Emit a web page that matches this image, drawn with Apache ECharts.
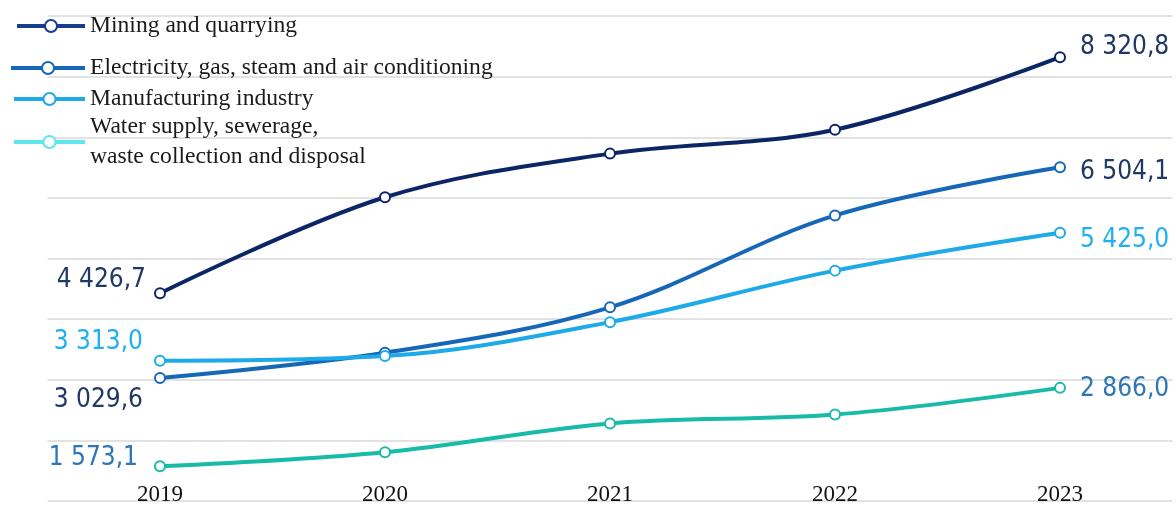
<!DOCTYPE html>
<html>
<head>
<meta charset="utf-8">
<script src="https://cdn.jsdelivr.net/npm/echarts@6/dist/echarts.min.js"></script>
<style>
html,body{margin:0;padding:0;background:#fff;}
#c{width:1176px;height:506px;}
</style>
</head>
<body>
<div id="c"></div>
<script>
const years = ['2019', '2020', '2021', '2022', '2023'];
const mining = [4426.7, 6010, 6730, 7125, 8320.8];
const electricity = [3029.6, 3445, 4195, 5710, 6504.1];
const manufacturing = [3313.0, 3390, 3950, 4800, 5425.0];
const water = [1573.1, 1805, 2280, 2426, 2866.0];
const seriesNames = [
  'Mining and quarrying',
  'Electricity, gas, steam and air conditioning',
  'Manufacturing industry',
  'Water supply, sewerage,\nwaste collection and disposal'
];

const C_NAVY = '#0c2565', C_ELEC = '#1767b8', C_MANU = '#1eaae9', C_WATER = '#17bba8';
const L_NAVY = '#1f3864', L_LIGHT = '#1fb0ef', L_MED = '#2e75b6';
const labelFont = '"DejaVu Sans Condensed", "Liberation Sans Narrow", "Liberation Sans", sans-serif';

function fmt(v) {
  const s = v.toFixed(1).split('.');
  return s[0].replace(/\B(?=(\d{3})+(?!\d))/g, ' ') + ',' + s[1];
}

function buildData(vals, first, last) {
  return vals.map((v, i) => {
    const item = { value: v };
    const cfg = i === 0 ? first : (i === vals.length - 1 ? last : null);
    if (cfg) {
      item.label = {
        show: true,
        position: cfg.pos,
        distance: cfg.dist,
        offset: cfg.off,
        color: cfg.color,
        fontFamily: labelFont,
        fontSize: 26,
        formatter: p => fmt(p.value)
      };
    }
    return item;
  });
}

function mkSeries(name, vals, color, first, last) {
  return {
    name: name,
    type: 'line',
    smooth: 0.35,
    data: buildData(vals, first, last),
    symbol: 'emptyCircle',
    symbolSize: 10,
    lineStyle: { color: color, width: 4 },
    itemStyle: { color: color, borderWidth: 2, borderColor: color },
    label: { show: false },
    z: 3
  };
}

const legendText = { color: '#1a1a1a', fontFamily: '"Liberation Serif", "Times New Roman", serif', fontSize: 23.6 };
function mkLegend(name, color, left, top, width) {
  return {
    data: [{
      name: name,
      itemStyle: { color: color, borderColor: color, borderWidth: 3 },
      lineStyle: { color: color, width: 4 }
    }],
    left: left, top: top, orient: 'vertical',
    itemWidth: width, itemHeight: 15, padding: 0,
    textStyle: Object.assign({}, legendText, { lineHeight: 30 }),
    selectedMode: false
  };
}

const chart = echarts.init(document.getElementById('c'), null, { renderer: 'canvas' });
chart.setOption({
  animation: false,
  backgroundColor: '#fff',
  grid: { left: 47.5, right: 3.5, top: 16, bottom: 5, containLabel: false },
  legend: [
    mkLegend(seriesNames[0], '#163d8e', 15, 11, 68),
    mkLegend(seriesNames[1], C_ELEC, 9, 53, 74),
    mkLegend(seriesNames[2], C_MANU, 12, 84, 71),
    mkLegend(seriesNames[3], '#5fe6ef', 12, 112, 71)
  ],
  xAxis: {
    type: 'category',
    data: years,
    boundaryGap: true,
    axisLine: { show: false },
    axisTick: { show: false },
    axisLabel: { margin: -18, color: '#111', fontFamily: '"Liberation Serif", "Times New Roman", serif', fontSize: 23 }
  },
  yAxis: {
    type: 'value',
    min: 1000, max: 9000, interval: 1000,
    axisLabel: { show: false },
    axisLine: { show: false },
    axisTick: { show: false },
    splitLine: { lineStyle: { color: '#d9d9d9', width: 1.5 } }
  },
  series: [
    mkSeries(seriesNames[0], mining, C_NAVY,
      { pos: 'left', dist: 8, off: [0, -13], color: L_NAVY },
      { pos: 'right', dist: 14, off: [0, -10], color: L_NAVY }),
    mkSeries(seriesNames[1], electricity, C_ELEC,
      { pos: 'left', dist: 11, off: [0, 22], color: L_NAVY },
      { pos: 'right', dist: 14, off: [0, 5], color: L_NAVY }),
    mkSeries(seriesNames[2], manufacturing, C_MANU,
      { pos: 'left', dist: 11, off: [0, -19], color: L_LIGHT },
      { pos: 'right', dist: 14, off: [0, 8], color: L_LIGHT }),
    mkSeries(seriesNames[3], water, C_WATER,
      { pos: 'left', dist: 16, off: [0, -8], color: L_MED },
      { pos: 'right', dist: 14, off: [0, 1], color: L_MED })
  ]
});
</script>
</body>
</html>
